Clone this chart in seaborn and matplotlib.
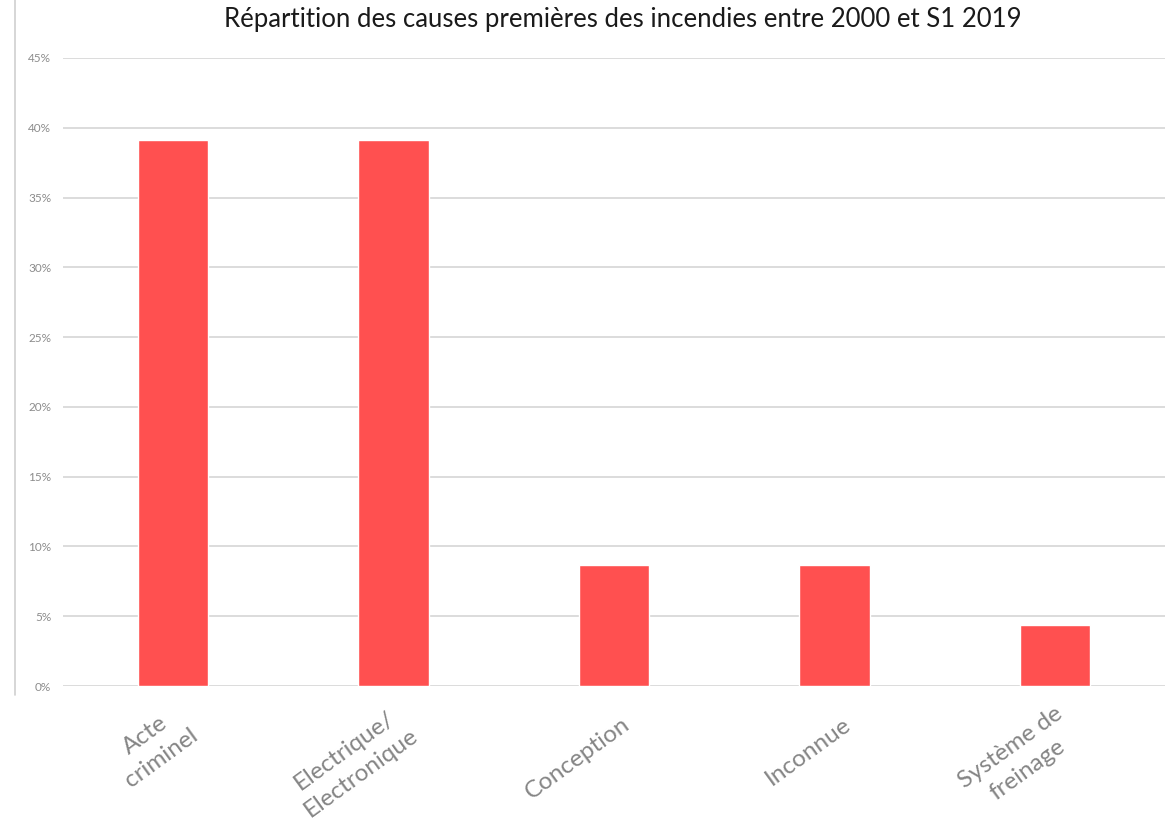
import matplotlib
matplotlib.use("Agg")
import matplotlib.pyplot as plt
import matplotlib.transforms as mtransforms
from matplotlib.lines import Line2D
from matplotlib.ticker import FuncFormatter, MultipleLocator
import seaborn as sns
import pandas as pd

categories = ["Acte\ncriminel", "Electrique/\nElectronique", "Conception", "Inconnue", "Système de\nfreinage"]
shares = [0.391, 0.391, 0.087, 0.087, 0.0435]
title = "Répartition des causes premières des incendies entre 2000 et S1 2019"

df = pd.DataFrame({"cause": categories, "share": shares})

sns.set_theme(style="white")
plt.rcParams["font.family"] = ["Lato", "DejaVu Sans"]

fig = plt.figure(figsize=(11.69, 8.22), dpi=100)
ax = fig.add_axes([63 / 1169, 1 - 686 / 822, (1165 - 63) / 1169, (686 - 58) / 822])

sns.barplot(data=df, x="cause", y="share", color="#FF5050", width=0.32, saturation=1, ax=ax, zorder=3)

ax.set_ylim(0, 0.45)
ax.set_xlim(-0.5, len(categories) - 0.5)
ax.yaxis.set_major_locator(MultipleLocator(0.05))
ax.yaxis.set_major_formatter(FuncFormatter(lambda v, p: f"{round(v * 100)}%"))
ax.grid(axis="y", color="#D9D9D9", linewidth=1.3, zorder=0)
ax.set_axisbelow(True)
for s in ax.spines.values():
    s.set_visible(False)
ax.set_xlabel("")
ax.set_ylabel("")
ax.tick_params(axis="y", length=0, labelsize=8.5, labelcolor="#8C8C8C", pad=8.5)
ax.tick_params(axis="x", length=0, labelsize=17.5, labelcolor="#858585", pad=26)

ax.set_xticks(range(len(categories)))
ax.set_xticklabels(categories, rotation=36, ha="right", va="center",
                   rotation_mode="anchor", multialignment="center", linespacing=1.4)
offset = mtransforms.ScaledTranslation(14 / 100, 0, fig.dpi_scale_trans)
for lab in ax.get_xticklabels():
    lab.set_transform(lab.get_transform() + offset)

fig.text(0.533, 1 - 20 / 822, title, ha="center", va="center", fontsize=18.5, color="#1A1A1A")

fig.add_artist(Line2D([15 / 1169, 15 / 1169], [1 - 695 / 822, 1.0], transform=fig.transFigure,
                      color="#D0D0D0", linewidth=1.2))

fig.savefig("out.png", dpi=100)
